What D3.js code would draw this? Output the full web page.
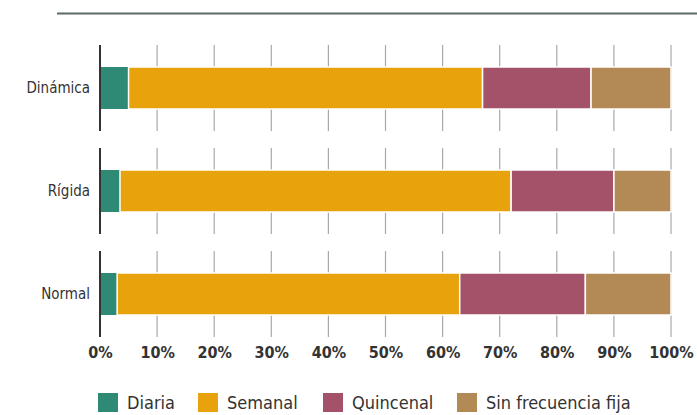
<!DOCTYPE html>
<html><head><meta charset="utf-8">
<script src="https://cdn.jsdelivr.net/npm/d3@7"></script>
<style>
body{margin:0;background:#fff;}
svg text{font-family:"Liberation Sans Narrow","DejaVu Sans Condensed","Roboto",sans-serif;}
</style></head>
<body>
<svg id="c" width="697" height="415"></svg>
<script>
const categories = ["Dinámica", "Rígida", "Normal"];
const series = ["Diaria", "Semanal", "Quincenal", "Sin frecuencia fija"];
const diaria = [5, 3.5, 3];
const semanal = [62, 68.5, 60];
const quincenal = [19, 18, 22];
const sinFrecuencia = [14, 10, 15];
const tickValues = [0, 10, 20, 30, 40, 50, 60, 70, 80, 90, 100];
const colors = ["#2f8a75", "#e8a20c", "#a4516a", "#b38a55"];

const svg = d3.select("#c");
const W = 697;
const x = d3.scaleLinear().domain([0, 100]).range([100, 671]);
const y = d3.scaleBand().domain(categories).range([45, 337]).paddingInner(0.165).paddingOuter(0);

const rows = categories.map((c, i) => ({cat: c, vals: [diaria[i], semanal[i], quincenal[i], sinFrecuencia[i]]}));

// top rule
svg.append("line").attr("x1", 57).attr("x2", W).attr("y1", 13.5).attr("y2", 13.5)
  .attr("stroke", "#5d6b67").attr("stroke-width", 2);

// gridlines per band
const g = svg.append("g");
rows.forEach(r => {
  const y0 = y(r.cat), y1 = y0 + y.bandwidth();
  tickValues.forEach(t => {
    g.append("line").attr("x1", x(t)).attr("x2", x(t)).attr("y1", y0).attr("y2", y1)
      .attr("stroke", t === 0 ? "#333" : "#a8a8a8").attr("stroke-width", t === 0 ? 2 : 1.2);
  });
});

// bars
const barH = 42;
rows.forEach(r => {
  const cy = y(r.cat) + y.bandwidth() / 2;
  let acc = 0;
  r.vals.forEach((v, j) => {
    svg.append("rect").attr("x", x(acc)).attr("y", cy - barH / 2)
      .attr("width", x(acc + v) - x(acc)).attr("height", barH)
      .attr("fill", colors[j]).attr("stroke", "#fff").attr("stroke-width", j === 0 ? 0 : 1.5);
    acc += v;
  });
  svg.append("text").attr("x", 90).attr("y", cy).attr("dy", "0.35em")
    .attr("text-anchor", "end").attr("font-size", 15).attr("fill", "#333").text(r.cat);
});

// redraw 0% line over teal
rows.forEach(r => {
  const y0 = y(r.cat), y1 = y0 + y.bandwidth();
  svg.append("line").attr("x1", x(0)).attr("x2", x(0)).attr("y1", y0).attr("y2", y1)
    .attr("stroke", "#333").attr("stroke-width", 2);
});

// x axis labels
const axis = d3.axisBottom(x).tickValues(tickValues).tickFormat(d => d + "%").tickSize(0).tickPadding(0);
const ax = svg.append("g").attr("transform", "translate(0,347)").call(axis);
ax.select(".domain").remove();
ax.selectAll("text").attr("font-size", 16).attr("font-weight", "bold").attr("fill", "#333")
  .style("font-family", '"Liberation Sans Narrow","DejaVu Sans Condensed",sans-serif');

// legend
const legX = [98, 198, 323, 457];
series.forEach((s, i) => {
  svg.append("rect").attr("x", legX[i]).attr("y", 393).attr("width", 20).attr("height", 19).attr("fill", colors[i]);
  svg.append("text").attr("x", legX[i] + 29).attr("y", 403).attr("dy", "0.35em")
    .attr("font-size", 18).attr("fill", "#333").text(s);
});
</script>
</body></html>
